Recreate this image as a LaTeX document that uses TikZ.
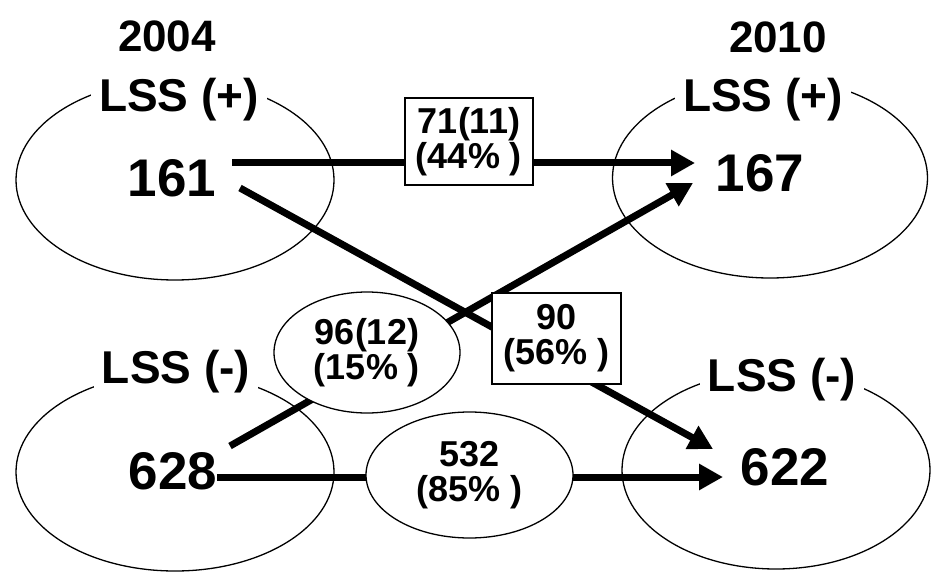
\documentclass[tikz,border=0pt]{standalone}
\usepackage{fontspec}
\setmainfont{Liberation Sans}
\usetikzlibrary{arrows.meta,shapes.geometric}
\begin{document}
\begin{tikzpicture}[x=1pt,y=-1pt,
  grp/.style={draw,ellipse,line width=1.3pt,inner sep=0pt},
  num/.style={font=\fontsize{53}{56}\selectfont\bfseries,inner sep=0pt},
  yr/.style={font=\fontsize{44}{48}\selectfont\bfseries,inner sep=0pt},
  cls/.style={font=\fontsize{46}{50}\selectfont\bfseries,fill=white,inner xsep=8pt,inner ysep=6pt},
  lblbox/.style={font=\fontsize{36}{35}\selectfont\bfseries,align=center,fill=white,draw,line width=1.3pt,inner sep=0pt},
  lblell/.style={lblbox,ellipse},
  flow/.style={line width=7pt,-{Triangle[length=24pt,width=25pt]}},
]
\useasboundingbox (0,0) rectangle (931,572);
% group ellipses
\node[grp,minimum width=318pt,minimum height=200pt] (gtl) at (175,180) {};
\node[grp,minimum width=315pt,minimum height=200pt] (gtr) at (770,178) {};
\node[grp,minimum width=318pt,minimum height=198pt] (gbl) at (175,472) {};
\node[grp,minimum width=308pt,minimum height=198pt] (gbr) at (776,470) {};
% numbers
\node[num] (n161) at (172,178.5) {161};
\node[num] (n167) at (760,173) {167};
\node[num] (n628) at (173,471) {628};
\node[num] (n622) at (785,467) {622};
% connectors
\draw[flow] ([shift={(60,-15.5)}]n161.center) -- ([shift={(-65,-10)}]n167.center);
\draw[flow] ([shift={(68,9.5)}]n161.center) -- ([shift={(-72,-18)}]n622.center);
\draw[flow] ([shift={(57,-25)}]n628.center) -- ([shift={(-67,10)}]n167.center);
\draw[flow] ([shift={(44,6)}]n628.center) -- ([shift={(-62,10)}]n622.center);
% labels on connectors
\node[lblbox,minimum width=128pt,minimum height=87pt] (l71) at (469,141.5) {71(11)\\(44\% )};
\node[lblbox,minimum width=129pt,minimum height=91pt] (l90) at (556.5,338.5) {90\\(56\% )};
\node[lblell,minimum width=186pt,minimum height=121pt] (l96) at (367,352.5) {96(12)\\(15\% )};
\node[lblell,minimum width=207pt,minimum height=126pt] (l532) at (469.5,475) {532\\(85\% )};
% class and year titles
\node[cls,anchor=base] (ctl) at (179,112) {LSS (+)};
\node[cls,anchor=base] (ctr) at (763,112) {LSS (+)};
\node[cls,anchor=base] (cbl) at (176,383) {LSS (-)};
\node[cls,anchor=base] (cbr) at (782,391) {LSS (-)};
\node[yr,anchor=base] (y04) at (167,52) {2004};
\node[yr,anchor=base] (y10) at (778,53) {2010};
\end{tikzpicture}
\end{document}
